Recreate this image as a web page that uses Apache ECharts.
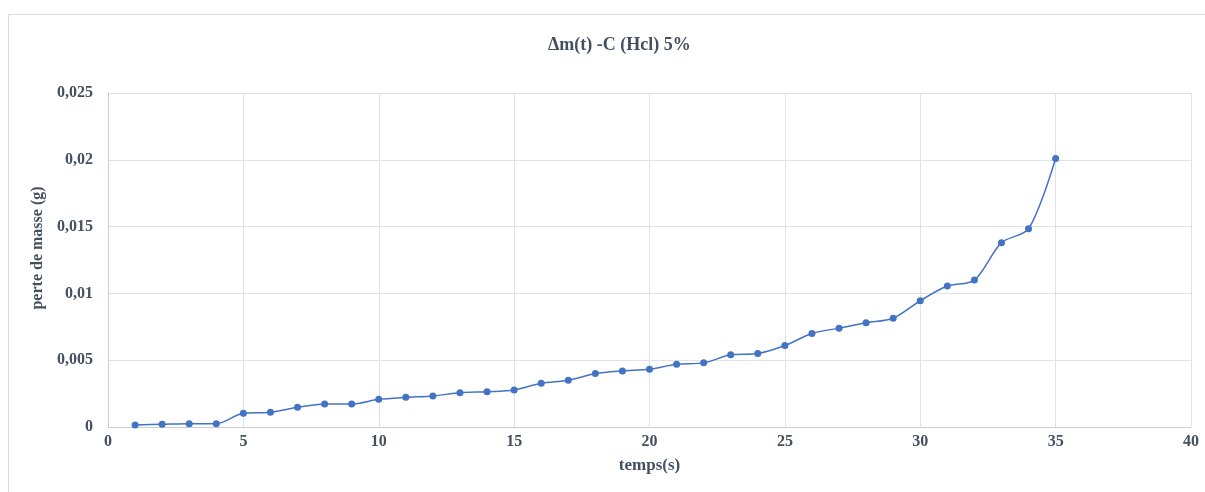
<!DOCTYPE html>
<html>
<head>
<meta charset="utf-8">
<script src="https://cdn.jsdelivr.net/npm/echarts@6/dist/echarts.min.js"></script>
<style>
  html, body { margin: 0; padding: 0; background: #ffffff; }
  #chart { width: 1205px; height: 492px; }
</style>
</head>
<body>
<div id="chart"></div>
<script>
// Mass loss of sample C in HCl 5% over time
const times = [1, 2, 3, 4, 5, 6, 7, 8, 9, 10, 11, 12, 13, 14, 15, 16, 17, 18, 19, 20,
               21, 22, 23, 24, 25, 26, 27, 28, 29, 30, 31, 32, 33, 34, 35];
const massLoss = [0.00015, 0.0002, 0.00025, 0.00025, 0.00103, 0.0011, 0.00147, 0.00172, 0.00172, 0.00207,
                  0.00222, 0.00232, 0.00257, 0.00264, 0.00277, 0.00327, 0.0035, 0.004, 0.0042, 0.00432,
                  0.0047, 0.0048, 0.0054, 0.0055, 0.0061, 0.007, 0.0074, 0.0078, 0.00814, 0.00945,
                  0.01055, 0.011, 0.0138, 0.01484, 0.0201];
const titleText = 'Δm(t) -C (Hcl) 5%';
const xName = 'temps(s)';
const yName = 'perte de masse (g)';

const textColor = '#44505f';
const gridColor = '#dfe2e8';
const serif = '"Liberation Serif", "DejaVu Serif", serif';

const chart = echarts.init(document.getElementById('chart'));
chart.setOption({
  animation: false,
  backgroundColor: '#ffffff',
  graphic: [{
    type: 'rect',
    shape: { x: 8.5, y: 14.5, width: 1300, height: 600 },
    style: { fill: 'none', stroke: '#d6dbe4', lineWidth: 1 },
    silent: true,
    z: -1
  }],
  title: {
    text: titleText,
    left: 543,
    top: 31,
    textStyle: { fontFamily: serif, fontSize: 18, fontWeight: 'bold', color: textColor }
  },
  grid: { left: 108, right: 14, top: 93, bottom: 65 },
  xAxis: {
    type: 'value',
    min: 0, max: 40, interval: 5,
    name: xName,
    nameLocation: 'middle',
    nameGap: 30,
    nameTextStyle: { fontFamily: serif, fontSize: 17, fontWeight: 'bold', color: textColor },
    axisLine: { lineStyle: { color: '#c9ced8', width: 1 } },
    axisTick: { show: false },
    axisLabel: { fontFamily: serif, fontSize: 16, fontWeight: 'bold', color: textColor, margin: 7 },
    splitLine: { show: true, lineStyle: { color: gridColor, width: 1 } }
  },
  yAxis: {
    type: 'value',
    min: 0, max: 0.025, interval: 0.005,
    name: yName,
    nameLocation: 'middle',
    nameGap: 55,
    nameRotate: 90,
    nameTextStyle: { fontFamily: serif, fontSize: 16, fontWeight: 'bold', color: textColor, padding: [0, 0, 0, 24] },
    axisLine: { show: true, lineStyle: { color: '#c9ced8', width: 1 } },
    axisTick: { show: false },
    axisLabel: {
      fontFamily: serif, fontSize: 16, fontWeight: 'bold', color: textColor, margin: 15,
      formatter: v => parseFloat(v.toFixed(4)).toString().replace('.', ',')
    },
    splitLine: { show: true, lineStyle: { color: gridColor, width: 1 } }
  },
  series: [{
    type: 'line',
    data: times.map((t, i) => [t, massLoss[i]]),
    smooth: 0.3,
    symbol: 'circle',
    symbolSize: 7,
    itemStyle: { color: '#4472c4' },
    lineStyle: { color: '#4472c4', width: 1.5 }
  }]
});
</script>
</body>
</html>
